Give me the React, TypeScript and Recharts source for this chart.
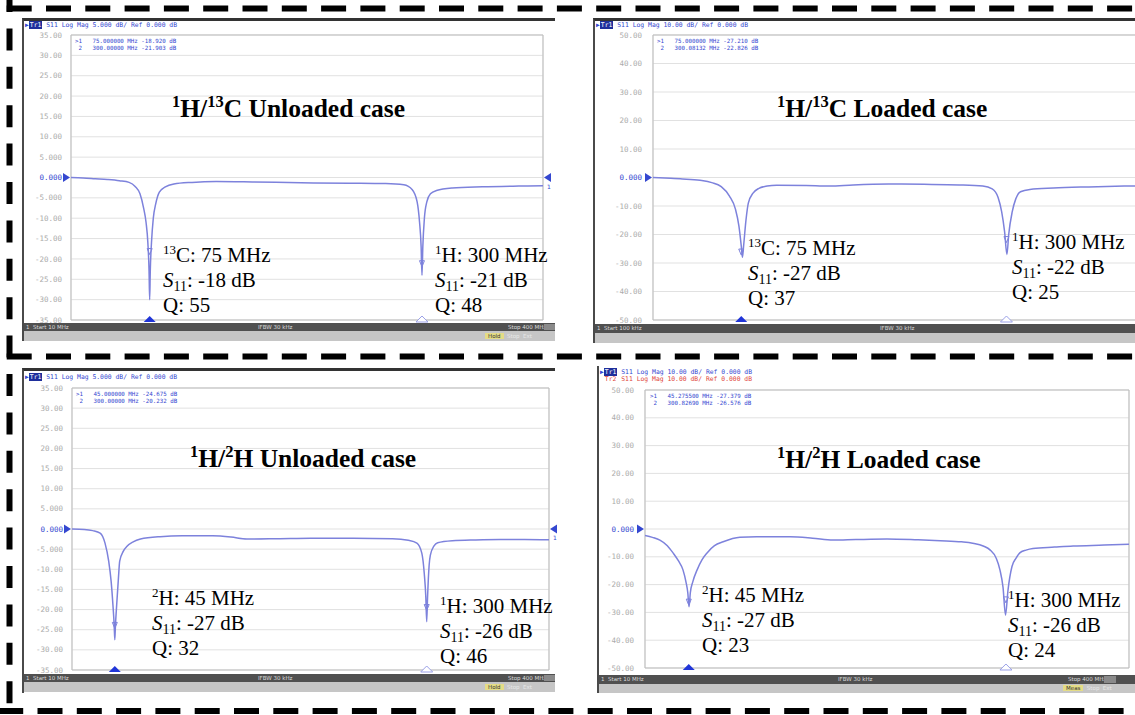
import React from 'react';
import { LineChart, Line, XAxis, YAxis, CartesianGrid, ReferenceDot, ReferenceArea } from 'recharts';

// S11 traces (frequency in MHz, magnitude in dB)
const c13UnloadedMHz = [10, 20, 30, 40, 50, 58, 63, 67, 70, 72, 73.5, 74.5, 75, 75.5, 76.5, 78, 80, 83, 88, 95, 110, 130, 160, 200, 240, 270, 285, 292, 296, 298, 299.3, 300, 300.7, 302, 304, 307, 312, 325, 350, 380, 400];
const c13UnloadedDb = [0, -0.1, -0.3, -0.5, -0.8, -1.2, -2.2, -4, -7.5, -11, -16, -23, -30, -23, -16, -10, -6.5, -3.6, -2.3, -1.6, -1.2, -1.0, -1.1, -1.3, -1.4, -1.5, -1.8, -3, -6, -11, -17, -24, -17, -10, -6, -4, -3.2, -2.6, -2.3, -2.1, -2.0];

const c13LoadedMHz = [0.1, 10, 25, 40, 50, 58, 65, 70, 73, 75, 76, 77, 79, 81, 85, 90, 97, 105, 130, 150, 170, 200, 230, 260, 280, 288, 293, 296, 298.5, 300.5, 302, 305, 308, 312, 320, 340, 370, 400, 420];
const c13LoadedDb = [0, -0.2, -0.5, -1.0, -1.8, -3.2, -6.5, -11, -17, -24, -28, -24, -15, -9, -5.5, -3.8, -3.0, -2.7, -2.8, -3.0, -2.6, -2.3, -2.4, -2.6, -3.0, -4, -7, -12, -19, -27, -20, -12, -7.5, -5, -4.2, -3.7, -3.3, -3.0, -2.9];

const h2UnloadedMHz = [10, 20, 27, 33, 37, 40, 42, 43.5, 44.5, 45, 45.5, 46.5, 48, 49, 52, 55, 60, 66, 82, 100, 125, 140, 153, 180, 205, 240, 272, 285, 292, 296, 298, 299.3, 300, 300.7, 302, 303, 306, 309, 321, 340, 360, 380, 400];
const h2UnloadedDb = [0, -0.1, -0.4, -1.0, -3.5, -8, -13, -19, -24, -27.5, -24, -19, -12, -8, -5.5, -4.3, -3.2, -2.5, -1.9, -1.7, -1.7, -2.0, -2.5, -2.4, -2.3, -2.3, -2.4, -2.8, -3.5, -6, -11, -17, -23, -17, -9, -6.5, -4.2, -3.4, -2.9, -2.7, -2.6, -2.6, -2.7];

const h2LoadedMHz = [10, 16, 22, 28, 32.6, 37, 40.6, 43, 44.5, 45.5, 46.5, 48.5, 52, 56, 60, 66, 73, 86.5, 100, 127, 145, 161.5, 180, 205, 230, 248, 265, 274, 283, 288, 293, 296, 298.5, 300.5, 302.5, 305.7, 309, 312, 317, 322.6, 340, 355, 380, 400];
const h2LoadedDb = [-2.3, -3, -4, -6, -8.6, -11.5, -14.7, -19, -23, -28, -23, -19, -14.7, -11, -8.6, -6, -4.6, -3.0, -2.8, -2.8, -3.3, -4.0, -3.8, -3.6, -3.9, -4.2, -4.6, -5.1, -6.2, -7.5, -10.5, -14.7, -21, -31, -22, -13.5, -10.5, -8.6, -7.6, -7, -6.5, -6.1, -5.8, -5.5];

// axis ticks
const yTicks5dB = [35, 30, 25, 20, 15, 10, 5, 0, -5, -10, -15, -20, -25, -30, -35];
const yTicks10dB = [50, 40, 30, 20, 10, 0, -10, -20, -30, -40, -50];
const xGrid400 = [10, 49, 88, 127, 166, 205, 244, 283, 322, 361, 400];
const xGrid500 = [0.1, 50, 100, 150, 200, 250, 300, 350, 400, 450, 500];

// marker readouts [MHz, dB]
const c13UnloadedMarkers = [[75, -18.92], [300, -21.903]];
const c13LoadedMarkers = [[75, -27.21], [300.08132, -22.826]];
const h2UnloadedMarkers = [[45, -24.675], [300, -20.232]];
const h2LoadedMarkers = [[45.2755, -27.379], [300.8269, -26.576]];

const TRACE = '#7d82dc';
const BLUE = '#3447d0';
const vnaFont = '"DejaVu Sans Mono", monospace';
const vnaSans = '"DejaVu Sans", sans-serif';
const serif = '"Liberation Serif", "Times New Roman", serif';

const AXIS_W = 60;
const MT = 4;
const MB = 6;
const MR = 12;

const fmtDb = (v: number) => (Math.abs(v) < 10 ? v.toFixed(3) : v.toFixed(2));

function DbTick(props: any) {
  const { x, y, payload } = props;
  const zero = payload.value === 0;
  return (
    <text x={x} y={y} dy={2.6} textAnchor="end" fontSize={7.5} fontFamily={vnaFont} fill={zero ? BLUE : '#ababab'}>
      {fmtDb(payload.value)}
    </text>
  );
}

const zeroArrowLeft = (p: any) => <path d={`M${p.cx - 8},${p.cy - 4.5} L${p.cx - 8},${p.cy + 4.5} L${p.cx - 1},${p.cy} Z`} fill={BLUE} />;
const zeroArrowRight = (p: any) => (
  <g>
    <path d={`M${p.cx + 8},${p.cy - 4.5} L${p.cx + 8},${p.cy + 4.5} L${p.cx + 1},${p.cy} Z`} fill={BLUE} />
    <text x={p.cx + 4} y={p.cy + 11} fontSize={6} fill={BLUE} fontFamily={vnaSans}>1</text>
  </g>
);
const onTrace = (p: any) => <path d={`M${p.cx - 2.5},${p.cy - 6} L${p.cx + 2.5},${p.cy - 6} L${p.cx},${p.cy} Z`} fill="none" stroke={TRACE} strokeWidth={1} />;
const activeFoot = (p: any) => <path d={`M${p.cx - 6},${p.cy + 2} L${p.cx + 6},${p.cy + 2} L${p.cx},${p.cy - 4} Z`} fill="#2035d8" />;
const idleFoot = (p: any) => <path d={`M${p.cx - 6},${p.cy + 2} L${p.cx + 6},${p.cy + 2} L${p.cx},${p.cy - 4} Z`} fill="#fff" stroke="#9aa0e8" strokeWidth={1} />;

type PanelCfg = {
  frame: { x: number; y: number; w: number; h: number; topLine: boolean };
  plot: { left: number; top: number; right: number; bottom: number };
  mhz: number[];
  db: number[];
  xDomain: [number, number];
  xTicks: number[];
  yDomain: [number, number];
  yTicks: number[];
  tickGap: number;
  headers: { text: string; color: string; tag: string }[];
  headerY: number;
  readout: { x: number; y: number; lines: string[] };
  markers: number[][];
  rightArrow: boolean;
  dark: { y: number; h: number; start: string; ifbwX: number; stopX?: number };
  light: { y: number; h: number; status?: string; statusX?: number };
};

function VnaPanel({ cfg }: { cfg: PanelCfg }) {
  const { frame, plot } = cfg;
  const plotW = plot.right - plot.left;
  const plotH = plot.bottom - plot.top;
  const data = cfg.mhz.map((f, i) => ({ f, db: cfg.db[i] }));
  const [xMin, xMax] = cfg.xDomain;
  const [yMin, yMax] = cfg.yDomain;
  const barText: React.CSSProperties = { position: 'absolute', top: 0, fontSize: 5.5, fontFamily: vnaSans, color: '#dcdcdc', whiteSpace: 'pre', lineHeight: `${cfg.dark.h}px` };
  return (
    <>
      <div
        style={{
          position: 'absolute', left: frame.x, top: frame.y, width: frame.w, height: frame.h,
          background: '#fff', borderLeft: '2px solid #4a4a4a', borderTop: frame.topLine ? '3px solid #333' : 'none', boxSizing: 'border-box',
        }}
      />
      {cfg.headers.map((h, i) => (
        <div key={i} style={{ position: 'absolute', left: frame.x + 3, top: cfg.headerY + i * 7, fontSize: 6.4, lineHeight: '7px', fontFamily: vnaFont, color: h.color, whiteSpace: 'pre' }}>
          <span style={{ color: BLUE }}>{i === 0 ? '\u25B6' : ' '}</span>
          <span style={{ background: i === 0 ? '#1f2f9c' : 'transparent', color: i === 0 ? '#fff' : h.color, padding: '0 1px' }}>{h.tag}</span>
          {' ' + h.text}
        </div>
      ))}
      <div style={{ position: 'absolute', left: plot.left - AXIS_W, top: plot.top - MT }}>
        <LineChart width={AXIS_W + plotW + MR} height={plotH + MT + MB} data={data} margin={{ top: MT, right: MR, bottom: MB, left: 0 }}>
          <CartesianGrid stroke="#e1e1e1" />
          <XAxis type="number" dataKey="f" domain={cfg.xDomain} ticks={cfg.xTicks} allowDataOverflow height={0} tick={false} axisLine={false} tickLine={false} />
          <YAxis type="number" domain={cfg.yDomain} ticks={cfg.yTicks} interval={0} allowDataOverflow width={AXIS_W} tick={<DbTick />} tickSize={0} tickMargin={cfg.tickGap} axisLine={false} tickLine={false} />
          <ReferenceArea x1={xMin} x2={xMax} y1={yMin} y2={yMax} fill="none" stroke="#bdbdbd" ifOverflow="visible" />
          <Line type="monotone" dataKey="db" stroke={TRACE} strokeWidth={1.5} dot={false} isAnimationActive={false} />
          <ReferenceDot x={xMin} y={0} ifOverflow="visible" shape={zeroArrowLeft} />
          {cfg.rightArrow && <ReferenceDot x={xMax} y={0} ifOverflow="visible" shape={zeroArrowRight} />}
          {cfg.markers.map((m, i) => (
            <ReferenceDot key={'t' + i} x={m[0]} y={m[1]} ifOverflow="visible" shape={onTrace} />
          ))}
          {cfg.markers.map((m, i) => (
            <ReferenceDot key={'b' + i} x={m[0]} y={yMin} ifOverflow="visible" shape={i === 0 ? activeFoot : idleFoot} />
          ))}
        </LineChart>
      </div>
      <div style={{ position: 'absolute', left: cfg.readout.x, top: cfg.readout.y, fontSize: 5.8, lineHeight: '6.5px', fontFamily: vnaFont, color: BLUE, whiteSpace: 'pre' }}>
        {cfg.readout.lines.map((l, i) => (
          <div key={i}>{l}</div>
        ))}
      </div>
      <div style={{ position: 'absolute', left: frame.x + 2, top: cfg.dark.y, width: frame.w - 2, height: cfg.dark.h, background: '#505050', overflow: 'hidden' }}>
        <span style={{ ...barText, left: 2 }}>{cfg.dark.start}</span>
        <span style={{ ...barText, left: cfg.dark.ifbwX - frame.x - 2 }}>IFBW 30 kHz</span>
        {cfg.dark.stopX !== undefined && (
          <>
            <span style={{ ...barText, left: cfg.dark.stopX - frame.x - 2 }}>Stop 400 MHz</span>
            <span style={{ position: 'absolute', left: cfg.dark.stopX - frame.x + 34, top: 1, width: 12, height: cfg.dark.h - 2, background: '#8a8a8a' }} />
          </>
        )}
      </div>
      <div style={{ position: 'absolute', left: frame.x + 2, top: cfg.light.y, width: frame.w - 2, height: cfg.light.h, background: '#c6c6c6', overflow: 'hidden' }}>
        {cfg.light.status && (
          <span style={{ position: 'absolute', left: (cfg.light.statusX as number) - frame.x - 2, top: 1, fontSize: 5.5, fontFamily: vnaSans, lineHeight: `${cfg.light.h - 2}px`, whiteSpace: 'pre' }}>
            <span style={{ background: '#e4dc86', color: '#333', padding: '0 3px' }}>{cfg.light.status}</span>
            <span style={{ color: '#e8e8e8' }}>  Stop  Ext</span>
          </span>
        )}
      </div>
    </>
  );
}

const panels: PanelCfg[] = [
  {
    frame: { x: 22, y: 18, w: 533, h: 323, topLine: true },
    plot: { left: 71, top: 35, right: 543, bottom: 320 },
    mhz: c13UnloadedMHz, db: c13UnloadedDb,
    xDomain: [10, 400], xTicks: xGrid400, yDomain: [-35, 35], yTicks: yTicks5dB, tickGap: 9,
    headers: [{ tag: 'Tr1', text: 'S11 Log Mag 5.000 dB/ Ref 0.000 dB', color: BLUE }],
    headerY: 22,
    readout: { x: 75, y: 38, lines: ['>1   75.000000 MHz -18.920 dB', ' 2   300.00000 MHz -21.903 dB'] },
    markers: c13UnloadedMarkers, rightArrow: true,
    dark: { y: 323, h: 8, start: '1  Start 10 MHz', ifbwX: 258, stopX: 508 },
    light: { y: 331, h: 10, status: 'Hold', statusX: 485 },
  },
  {
    frame: { x: 593, y: 18, w: 560, h: 325, topLine: true },
    plot: { left: 653, top: 35, right: 1242, bottom: 320 },
    mhz: c13LoadedMHz, db: c13LoadedDb,
    xDomain: [0.1, 500], xTicks: xGrid500, yDomain: [-50, 50], yTicks: yTicks10dB, tickGap: 11,
    headers: [{ tag: 'Tr1', text: 'S11 Log Mag 10.00 dB/ Ref 0.000 dB', color: BLUE }],
    headerY: 22,
    readout: { x: 657, y: 38, lines: ['>1   75.000000 MHz -27.210 dB', ' 2   300.08132 MHz -22.826 dB'] },
    markers: c13LoadedMarkers, rightArrow: false,
    dark: { y: 324, h: 9, start: '1  Start 100 kHz', ifbwX: 880 },
    light: { y: 333, h: 10 },
  },
  {
    frame: { x: 22, y: 368, w: 533, h: 325, topLine: true },
    plot: { left: 72, top: 388, right: 549, bottom: 670 },
    mhz: h2UnloadedMHz, db: h2UnloadedDb,
    xDomain: [10, 400], xTicks: xGrid400, yDomain: [-35, 35], yTicks: yTicks5dB, tickGap: 9,
    headers: [{ tag: 'Tr1', text: 'S11 Log Mag 5.000 dB/ Ref 0.000 dB', color: BLUE }],
    headerY: 374,
    readout: { x: 76, y: 391, lines: ['>1   45.000000 MHz -24.675 dB', ' 2   300.00000 MHz -20.232 dB'] },
    markers: h2UnloadedMarkers, rightArrow: true,
    dark: { y: 674, h: 8, start: '1  Start 10 MHz', ifbwX: 258, stopX: 508 },
    light: { y: 682, h: 10, status: 'Hold', statusX: 485 },
  },
  {
    frame: { x: 597, y: 366, w: 540, h: 327, topLine: false },
    plot: { left: 645, top: 390, right: 1129, bottom: 668 },
    mhz: h2LoadedMHz, db: h2LoadedDb,
    xDomain: [10, 400], xTicks: xGrid400, yDomain: [-50, 50], yTicks: yTicks10dB, tickGap: 11,
    headers: [
      { tag: 'Tr1', text: 'S11 Log Mag 10.00 dB/ Ref 0.000 dB', color: BLUE },
      { tag: 'Tr2', text: 'S11 Log Mag 10.00 dB/ Ref 0.000 dB', color: '#e0453a' },
    ],
    headerY: 369,
    readout: { x: 650, y: 393, lines: ['>1   45.275500 MHz -27.379 dB', ' 2   300.82690 MHz -26.576 dB'] },
    markers: h2LoadedMarkers, rightArrow: false,
    dark: { y: 675, h: 9, start: '1  Start 10 MHz', ifbwX: 838, stopX: 1068 },
    light: { y: 684, h: 9, status: 'Meas', statusX: 1063 },
  },
];

// titles and resonance notes
const titles = [
  { x: 172, y: 117, sup1: '1', mid: 'H/', sup2: '13', tail: 'C Unloaded case' },
  { x: 777, y: 117, sup1: '1', mid: 'H/', sup2: '13', tail: 'C Loaded case' },
  { x: 190, y: 467, sup1: '1', mid: 'H/', sup2: '2', tail: 'H Unloaded case' },
  { x: 777, y: 468, sup1: '1', mid: 'H/', sup2: '2', tail: 'H Loaded case' },
];

const notes = [
  { x: 163, y: 262, iso: '13', el: 'C', freq: '75 MHz', s11: '-18 dB', q: '55' },
  { x: 435, y: 262, iso: '1', el: 'H', freq: '300 MHz', s11: '-21 dB', q: '48' },
  { x: 748, y: 255, iso: '13', el: 'C', freq: '75 MHz', s11: '-27 dB', q: '37' },
  { x: 1012, y: 249, iso: '1', el: 'H', freq: '300 MHz', s11: '-22 dB', q: '25' },
  { x: 152, y: 605, iso: '2', el: 'H', freq: '45 MHz', s11: '-27 dB', q: '32' },
  { x: 440, y: 613, iso: '1', el: 'H', freq: '300 MHz', s11: '-26 dB', q: '46' },
  { x: 702, y: 602, iso: '2', el: 'H', freq: '45 MHz', s11: '-27 dB', q: '23' },
  { x: 1008, y: 607, iso: '1', el: 'H', freq: '300 MHz', s11: '-26 dB', q: '24' },
];

function Overlay() {
  const fs = 21;
  const gap = 25;
  return (
    <svg width={1135} height={715} style={{ position: 'absolute', left: 0, top: 0, pointerEvents: 'none' }}>
      <line x1={6.7} y1={8.5} x2={1140} y2={8.5} stroke="#000" strokeWidth={6} strokeDasharray="25 14.3" />
      <line x1={6.7} y1={356.5} x2={1140} y2={356.5} stroke="#000" strokeWidth={6} strokeDasharray="25 14.3" />
      <line x1={-1.8} y1={711} x2={1140} y2={711} stroke="#000" strokeWidth={6} strokeDasharray="25 14.3" />
      <line x1={9.5} y1={-10} x2={9.5} y2={714} stroke="#000" strokeWidth={6} strokeDasharray="22 16.4" />
      {titles.map((t, i) => (
        <text key={i} x={t.x} y={t.y} fontFamily={serif} fontWeight="bold" fontSize={25.5} fill="#000">
          <tspan fontSize={16.5} dy={-10}>{t.sup1}</tspan>
          <tspan dy={10}>{t.mid}</tspan>
          <tspan fontSize={16.5} dy={-10}>{t.sup2}</tspan>
          <tspan dy={10}>{t.tail}</tspan>
        </text>
      ))}
      {notes.map((n, i) => (
        <g key={i} fontFamily={serif} fontSize={fs} fill="#000">
          <text x={n.x} y={n.y}>
            <tspan fontSize={13} dy={-8}>{n.iso}</tspan>
            <tspan dy={8}>{`${n.el}: ${n.freq}`}</tspan>
          </text>
          <text x={n.x} y={n.y + gap}>
            <tspan fontStyle="italic">S</tspan>
            <tspan fontSize={14} dy={4}>11</tspan>
            <tspan dy={-4}>{`: ${n.s11}`}</tspan>
          </text>
          <text x={n.x} y={n.y + gap * 2}>{`Q: ${n.q}`}</text>
        </g>
      ))}
    </svg>
  );
}

export default function App() {
  return (
    <div style={{ position: 'absolute', left: 0, top: 0, width: 1135, height: 715, overflow: 'hidden', background: '#fff' }}>
      {panels.map((p, i) => (
        <VnaPanel key={i} cfg={p} />
      ))}
      <Overlay />
    </div>
  );
}
